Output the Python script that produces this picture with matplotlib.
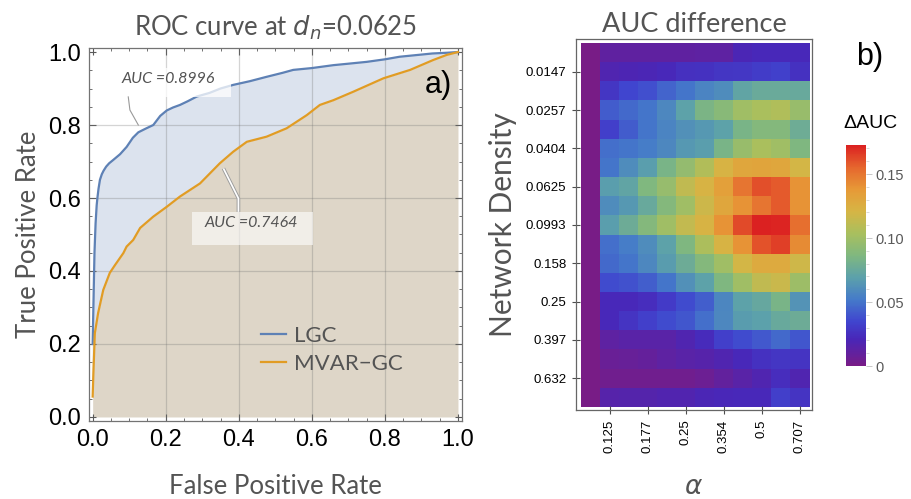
import numpy as np
import matplotlib
matplotlib.use("Agg")
import matplotlib.pyplot as plt
from matplotlib.colors import LinearSegmentedColormap
from matplotlib.ticker import MultipleLocator, FormatStrFormatter

# ---------------- data ----------------
# ROC curves at d_n = 0.0625
lgc_fpr = [0, 0.001, 0.003, 0.005, 0.008, 0.011, 0.013, 0.016, 0.02, 0.025, 0.03, 0.037, 0.045,
           0.056, 0.075, 0.093, 0.11, 0.125, 0.145, 0.166, 0.185, 0.203, 0.22, 0.239, 0.26,
           0.285, 0.32, 0.35, 0.385, 0.43, 0.476, 0.52, 0.549, 0.6, 0.659, 0.7, 0.75, 0.8,
           0.84, 0.9, 0.93, 0.97, 1.0]
lgc_tpr = [0.2, 0.25, 0.35, 0.45, 0.53, 0.58, 0.6, 0.625, 0.65, 0.665, 0.675, 0.686, 0.695,
           0.704, 0.72, 0.74, 0.765, 0.78, 0.79, 0.80, 0.825, 0.84, 0.848, 0.855, 0.865,
           0.878, 0.888, 0.9, 0.91, 0.92, 0.932, 0.943, 0.951, 0.956, 0.964, 0.968, 0.973, 0.98,
           0.987, 0.993, 0.996, 0.998, 1.0]
mvar_fpr = [0, 0.002, 0.006, 0.015, 0.029, 0.047, 0.061, 0.084, 0.093, 0.111, 0.13, 0.166,
            0.203, 0.239, 0.294, 0.348, 0.385, 0.422, 0.476, 0.531, 0.586, 0.622, 0.659,
            0.713, 0.796, 0.869, 0.932, 0.969, 1.0]
mvar_tpr = [0.056, 0.12, 0.23, 0.285, 0.348, 0.395, 0.416, 0.449, 0.467, 0.485, 0.518, 0.549,
            0.576, 0.604, 0.64, 0.695, 0.727, 0.754, 0.768, 0.791, 0.827, 0.855, 0.868,
            0.891, 0.928, 0.951, 0.978, 0.992, 1.0]
auc_lgc = 0.8996
auc_mvar = 0.7464

# AUC difference heatmap (rows: network density, cols: alpha)
density_ticks = ["0.0147", "0.0257", "0.0404", "0.0625", "0.0993", "0.158", "0.25", "0.397", "0.632"]
alpha_ticks = ["0.125", "0.177", "0.25", "0.354", "0.5", "0.707"]
dauc = np.array([
    [0, .011, .011, .011, .011, .011, .012, .012, .020, .022, .022, .022],
    [0, .018, .019, .020, .022, .025, .026, .028, .029, .031, .033, .026],
    [0, .028, .035, .038, .045, .050, .056, .060, .072, .076, .076, .075],
    [0, .042, .046, .050, .058, .070, .084, .090, .100, .104, .106, .097],
    [0, .032, .042, .050, .056, .062, .065, .070, .083, .088, .088, .078],
    [0, .048, .050, .053, .058, .065, .068, .083, .097, .104, .100, .086],
    [0, .050, .060, .068, .083, .095, .107, .122, .130, .131, .130, .120],
    [0, .068, .072, .087, .096, .112, .122, .134, .150, .161, .158, .140],
    [0, .060, .065, .075, .088, .100, .117, .130, .140, .150, .158, .140],
    [0, .068, .077, .088, .100, .113, .122, .140, .162, .173, .172, .152],
    [0, .048, .053, .060, .070, .086, .105, .122, .140, .160, .165, .143],
    [0, .046, .050, .058, .067, .077, .088, .100, .120, .128, .128, .118],
    [0, .037, .039, .043, .050, .062, .070, .086, .100, .112, .116, .099],
    [0, .022, .022, .024, .030, .037, .043, .057, .070, .074, .083, .063],
    [0, .022, .027, .032, .037, .040, .048, .058, .067, .069, .075, .077],
    [0, .012, .014, .014, .014, .018, .023, .032, .037, .041, .046, .040],
    [0, .007, .008, .009, .012, .014, .015, .018, .022, .026, .028, .027],
    [0, .004, .004, .004, .004, .004, .006, .010, .014, .018, .024, .018],
    [0, .015, .016, .016, .017, .017, .020, .021, .022, .022, .032, .027],
])
vmax = 0.1727

# ---------------- style ----------------
blue = (0.368, 0.507, 0.710)
orange = (0.881, 0.611, 0.142)
grey_txt = (0.33, 0.33, 0.33)
label_font = ["Lato", "DejaVu Sans"]
tick_font = ["Liberation Sans", "DejaVu Sans"]

rainbow = LinearSegmentedColormap.from_list("mma_rainbow", [
    (0.00, (0.471, 0.109, 0.527)),
    (0.12, (0.285, 0.150, 0.720)),
    (0.20, (0.250, 0.270, 0.810)),
    (0.30, (0.270, 0.480, 0.790)),
    (0.40, (0.360, 0.630, 0.670)),
    (0.50, (0.500, 0.720, 0.500)),
    (0.60, (0.660, 0.750, 0.370)),
    (0.70, (0.840, 0.710, 0.270)),
    (0.80, (0.905, 0.600, 0.215)),
    (0.90, (0.900, 0.400, 0.180)),
    (1.00, (0.860, 0.130, 0.130)),
])

fig = plt.figure(figsize=(9.12, 4.99), dpi=100)

# ================= a) ROC curve =================
ax = fig.add_axes([89 / 912, 1 - 421 / 499, 373 / 912, 373 / 499])
ax.set_xlim(-0.01, 1.011)
ax.set_ylim(-0.011, 1.011)

# filled areas
ax.fill_between([0] + mvar_fpr, 0, [0] + mvar_tpr, color=(0.871, 0.839, 0.784), lw=0, zorder=1)
poly_x = [0] + lgc_fpr + mvar_fpr[::-1]
poly_y = [lgc_tpr[0]] + lgc_tpr + mvar_tpr[::-1]
ax.fill(poly_x, poly_y, color=(0.863, 0.890, 0.933), lw=0, zorder=1)

# grid
for g in [0.2, 0.4, 0.6, 0.8]:
    ax.axvline(g, color=(0.45, 0.45, 0.45), alpha=0.3, lw=0.9, zorder=2)
    ax.axhline(g, color=(0.45, 0.45, 0.45), alpha=0.3, lw=0.9, zorder=2)

ax.plot(lgc_fpr, lgc_tpr, color=blue, lw=1.6, zorder=3, label="LGC")
ax.plot(mvar_fpr, mvar_tpr, color=orange, lw=1.6, zorder=3, label="MVAR\u2212GC")

# AUC callouts
ax.add_patch(plt.Rectangle((0.07, 0.877), 0.31, 0.079, color="white", alpha=0.75, lw=0, zorder=4))
ax.text(0.207, 0.926, "AUC =%.4f" % auc_lgc, family=label_font, style="italic", fontsize=11.5,
        color=grey_txt, ha="center", va="center", zorder=5)
ax.plot([0.0975, 0.102, 0.125], [0.877, 0.841, 0.80], color=(0.6, 0.6, 0.6), lw=0.8, zorder=5)

ax.add_patch(plt.Rectangle((0.271, 0.47), 0.333, 0.092, color="white", alpha=0.6, lw=0, zorder=4))
ax.text(0.433, 0.532, "AUC =%.4f" % auc_mvar, family=label_font, style="italic", fontsize=11.5,
        color=grey_txt, ha="center", va="center", zorder=5)
ax.plot([0.358, 0.399, 0.399], [0.681, 0.599, 0.562], color=(0.62, 0.62, 0.62), lw=2.6, zorder=5,
        solid_capstyle="butt")
ax.plot([0.358, 0.399, 0.399], [0.681, 0.599, 0.562], color="white", lw=1.2, zorder=5,
        solid_capstyle="butt")

leg = ax.legend(loc="upper left", bbox_to_anchor=(0.43, 0.285), frameon=False, handlelength=1.15,
                handletextpad=0.35, borderpad=0, labelspacing=0.38,
                prop={"family": label_font, "size": 16})
for t in leg.get_texts():
    t.set_color(grey_txt)

ax.text(0.945, 0.91, "a)", fontsize=22, family=tick_font, ha="center", va="center", zorder=5)

ax.xaxis.set_major_locator(MultipleLocator(0.2))
ax.yaxis.set_major_locator(MultipleLocator(0.2))
ax.xaxis.set_minor_locator(MultipleLocator(0.05))
ax.yaxis.set_minor_locator(MultipleLocator(0.05))
ax.tick_params(which="both", direction="in", top=True, right=True, color=(0.35, 0.35, 0.35))
ax.tick_params(which="major", length=5, width=0.8, labelsize=17, pad=6)
ax.tick_params(which="minor", length=2.5, width=0.6)
for lab in ax.get_xticklabels() + ax.get_yticklabels():
    lab.set_family(tick_font)
ax.xaxis.set_major_formatter(FormatStrFormatter("%.1f"))
ax.yaxis.set_major_formatter(FormatStrFormatter("%.1f"))
for s in ax.spines.values():
    s.set_color((0.45, 0.45, 0.45))
    s.set_linewidth(0.9)
ax.set_xlabel("False Positive Rate", family=label_font, fontsize=18.5, color=grey_txt, labelpad=16)
ax.set_ylabel("True Positive Rate", family=label_font, fontsize=18.5, color=grey_txt, labelpad=5)
ax.set_title("ROC curve at $d_n$=0.0625", family=label_font, fontsize=18.5, color=grey_txt, pad=9)

# ================= b) AUC difference =================
bx = fig.add_axes([576 / 912, 1 - 410 / 499, 236 / 912, 371 / 499])
nr, nc = dauc.shape
bx.pcolormesh(np.arange(nc + 1), np.arange(nr + 1), dauc, cmap=rainbow, vmin=0, vmax=vmax)
bx.set_xlim(-0.26, nc + 0.13)
bx.set_ylim(nr + 0.16, -0.21)
bx.set_yticks(np.arange(1, nr, 2) + 0.5)
bx.set_yticklabels(density_ticks)
bx.set_xticks(np.arange(1, nc, 2) + 0.5)
bx.set_xticklabels(alpha_ticks, rotation=90)
bx.tick_params(direction="inout", length=6, width=0.8, labelsize=9.5, color=(0.3, 0.3, 0.3), pad=4)
for lab in bx.get_xticklabels() + bx.get_yticklabels():
    lab.set_family(tick_font)
for s in bx.spines.values():
    s.set_color((0.4, 0.4, 0.4))
    s.set_linewidth(0.9)
bx.set_title("AUC difference", family=label_font, fontsize=19.5, color=grey_txt, pad=5)
bx.set_ylabel("Network Density", family=label_font, fontsize=21.5, color=grey_txt, labelpad=6)
bx.set_xlabel("$\\alpha$", fontsize=19, color=grey_txt, labelpad=15)

fig.text(870 / 912, 1 - 57 / 499, "b)", fontsize=22, family=tick_font, ha="center", va="center")

# colorbar
cax = fig.add_axes([846 / 912, 1 - 366 / 499, 20 / 912, 221 / 499])
sm = matplotlib.cm.ScalarMappable(cmap=rainbow, norm=plt.Normalize(0, vmax))
cb = fig.colorbar(sm, cax=cax, ticks=[0, 0.05, 0.10, 0.15])
cb.ax.set_yticklabels(["0", "0.05", "0.10", "0.15"])
cb.outline.set_visible(False)
cb.ax.yaxis.set_minor_locator(MultipleLocator(0.01))
cb.ax.tick_params(which="major", length=4, width=0.6, color=(0.75, 0.75, 0.75), labelsize=10.5,
                  labelcolor=(0.35, 0.35, 0.35), pad=3)
cb.ax.tick_params(which="minor", length=2, width=0.5, color=(0.8, 0.8, 0.8))
for lab in cb.ax.get_yticklabels():
    lab.set_family(tick_font)
fig.text(870 / 912, 1 - 123 / 499, "\u0394AUC", fontsize=14, family=tick_font, ha="center", va="center")

fig.savefig("out.png", dpi=100)
